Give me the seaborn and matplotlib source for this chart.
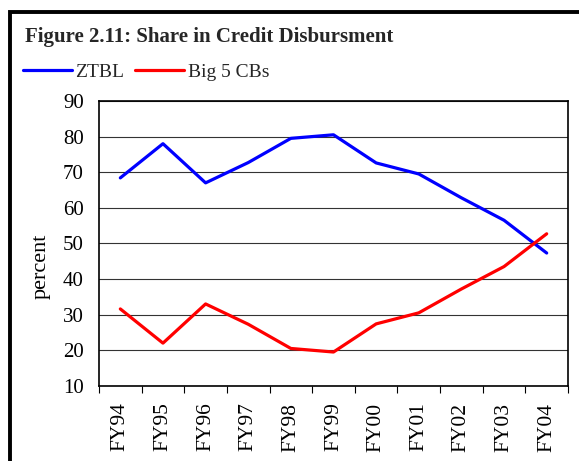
import seaborn as sns
import matplotlib.pyplot as plt
import matplotlib.patches as patches
import pandas as pd
from matplotlib.ticker import FixedLocator
from matplotlib.lines import Line2D

# data
years = ["FY94", "FY95", "FY96", "FY97", "FY98", "FY99",
         "FY00", "FY01", "FY02", "FY03", "FY04"]
ztbl = [68.4, 78.0, 67.0, 72.7, 79.5, 80.5, 72.6, 69.5, 62.8, 56.5, 47.3]
big5 = [31.6, 22.0, 33.0, 27.3, 20.5, 19.5, 27.4, 30.5, 37.2, 43.5, 52.7]

df = pd.DataFrame({
    "year": years * 2,
    "value": ztbl + big5,
    "series": ["ZTBL"] * len(years) + ["Big 5 CBs"] * len(years),
})

sns.set_theme(style="white")
plt.rcParams["font.family"] = ["Liberation Serif", "DejaVu Serif"]

fig = plt.figure(figsize=(5.79, 4.61), dpi=100)
ax = fig.add_axes([0.171, 0.163, 0.810, 0.618])

sns.lineplot(data=df, x="year", y="value", hue="series",
             palette={"ZTBL": "#0000FF", "Big 5 CBs": "#FF0000"},
             linewidth=2.3, sort=False, ax=ax, legend=False)

ax.set_ylim(10, 90)
ax.set_xlim(-0.5, len(years) - 0.5)
ax.set_yticks(range(10, 100, 10))
ax.yaxis.grid(True, color="#333333", linewidth=0.8)
ax.set_axisbelow(True)

# labels centred on categories, tick marks between them
ax.set_xticks(range(len(years)))
ax.set_xticklabels(years, rotation=90)
ax.xaxis.set_minor_locator(FixedLocator([i - 0.5 for i in range(len(years) + 1)]))
ax.tick_params(axis="x", which="major", length=0, pad=12, labelsize=15.5)
ax.tick_params(axis="x", which="minor", length=5, width=0.8, color="black",
               direction="out", bottom=True)
ax.tick_params(axis="y", length=0, labelsize=15, pad=11)
for lab in ax.get_xticklabels() + ax.get_yticklabels():
    lab.set_color("black")

for sp in ax.spines.values():
    sp.set_color("black")
    sp.set_linewidth(1.2)

ax.set_xlabel("")
ax.set_ylabel("percent", fontsize=16, color="black")
ax.yaxis.set_label_coords(-0.104, 0.42)

# outer frame
fig.patches.append(patches.Rectangle((10 / 579, -0.05), 1.2, 1 - 12 / 461 + 0.05,
                                     transform=fig.transFigure, fill=False,
                                     edgecolor="black", linewidth=2.8))

fig.text(25 / 579, 1 - 37 / 461, "Figure 2.11: Share in Credit Disbursment",
         fontsize=15, fontweight="bold", va="center", ha="left")

handles = [Line2D([], [], color="#0000FF", linewidth=2.3),
           Line2D([], [], color="#FF0000", linewidth=2.3)]
fig.legend(handles, ["ZTBL", "Big 5 CBs"], loc="center left",
           bbox_to_anchor=(23 / 579, 1 - 72 / 461), ncol=2, frameon=False,
           fontsize=14, handlelength=2.5, handletextpad=0.2, columnspacing=0.55,
           borderpad=0, borderaxespad=0)

fig.savefig("out.png", dpi=100)
